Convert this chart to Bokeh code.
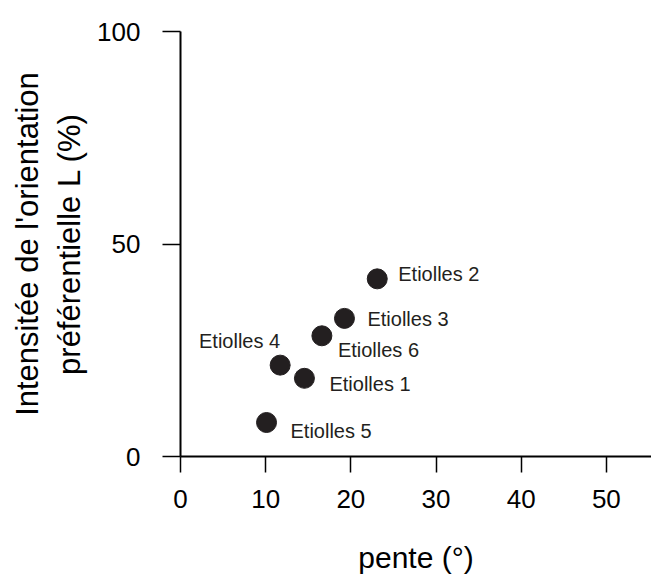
from bokeh.plotting import figure
from bokeh.models import ColumnDataSource, FixedTicker, Range1d
from bokeh.core.properties import value
from bokeh.embed import file_html
from bokeh.resources import INLINE

# data
sites = ["Etiolles 1", "Etiolles 2", "Etiolles 3", "Etiolles 4", "Etiolles 5", "Etiolles 6"]
pente = [14.55, 23.1, 19.25, 11.7, 10.1, 16.6]
intensite = [18.4, 41.8, 32.5, 21.5, 8.0, 28.4]
x_ticks = [0, 10, 20, 30, 40, 50]
y_ticks = [0, 50, 100]

# label placement (screen px), style only
lab_dx = [25, 21, 23, 0, 24, 16]
lab_dy = [6, -5, 1, -24, 8, 14]
lab_align = ["left", "left", "left", "right", "left", "left"]

src = ColumnDataSource(dict(x=pente, y=intensite, name=sites,
                            dx=lab_dx, dy=lab_dy, al=lab_align))

FONT = "Liberation Sans"
INK = "#231f20"

p = figure(width=651, height=576, output_backend="svg", toolbar_location=None,
           x_range=Range1d(0, 55.3), y_range=Range1d(0, 100),
           min_border_left=180, min_border_right=0, min_border_top=31,
           min_border_bottom=118)
p.outline_line_color = None
p.grid.grid_line_color = None
p.background_fill_color = "white"
p.border_fill_color = "white"

p.scatter("x", "y", source=src, size=20, fill_color=INK, line_color=INK)
p.text("x", "y", text="name", source=src, x_offset="dx", y_offset="dy",
       text_align="al", text_baseline="middle", text_font=value(FONT),
       text_font_size="20px", text_color=INK)

for ax in (p.xaxis[0], p.yaxis[0]):
    ax.axis_line_color = "black"
    ax.axis_line_width = 2
    ax.major_tick_line_color = "black"
    ax.major_tick_line_width = 1.5
    ax.minor_tick_line_color = None
    ax.major_tick_in = 0
    ax.major_label_text_font = FONT
    ax.major_label_text_font_size = "26px"
    ax.major_label_text_color = "black"
    ax.axis_label_text_font = FONT
    ax.axis_label_text_font_style = "normal"
    ax.axis_label_text_color = "black"

p.xaxis.axis_label_text_font_size = "30px"
p.yaxis.axis_label_text_font_size = "31px"
p.xaxis.ticker = FixedTicker(ticks=x_ticks)
p.yaxis.ticker = FixedTicker(ticks=y_ticks)
p.xaxis.major_tick_out = 16
p.yaxis.major_tick_out = 18
p.xaxis.major_label_standoff = 17
p.yaxis.major_label_standoff = 22
p.xaxis.axis_label = "pente (°)"
p.yaxis.axis_label = "Intensitée de l'orientation\npréférentielle L (%)"
p.xaxis.axis_label_standoff = 30
p.yaxis.axis_label_standoff = 7

open("out.html", "w").write(file_html(p, INLINE))
